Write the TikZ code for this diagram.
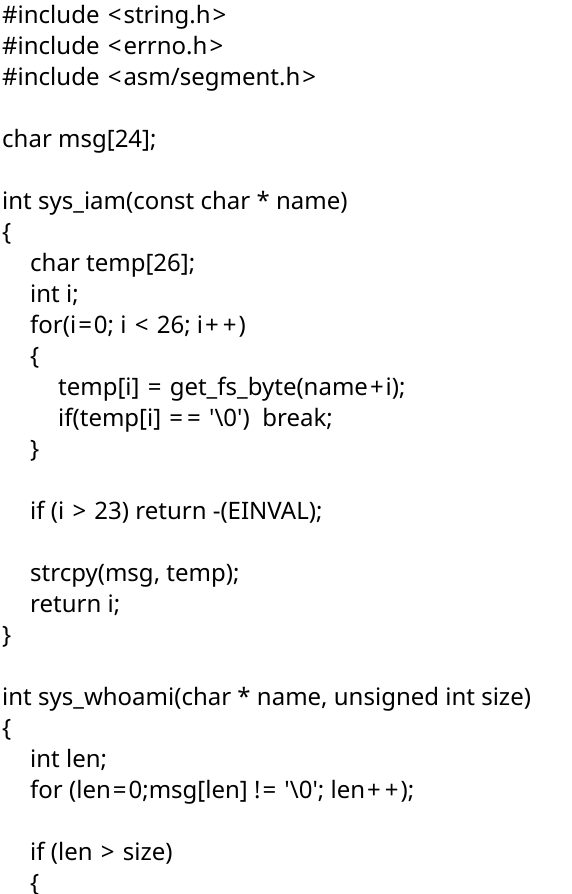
\documentclass[tikz,border=0pt]{standalone}
\usepackage{fontspec}
\setmainfont{Noto Sans}
\usetikzlibrary{positioning}
\tikzset{codeline/.style={anchor=base west, inner sep=0pt, font=\fontsize{24}{29}\selectfont}}
\newcommand{\bsl}{\textbackslash}
\newcommand{\sqt}{\textquotesingle}
\newcommand{\opx}[1]{\kern2pt\relax#1\kern2pt\relax}

\begin{document}
\begin{tikzpicture}[x=1pt,y=1pt]
    \useasboundingbox (0,0) rectangle (572,-894);
    \clip (0,0) rectangle (572,-894);
    % line number / indent level / text
    \foreach \n/\ind/\txt in {
        1/0/{\#include \opx{<}string.h\opx{>}},
        2/0/{\#include \opx{<}errno.h\opx{>}},
        3/0/{\#include \opx{<}asm/segment.h\opx{>}},
        5/0/{char msg[24];},
        7/0/{int sys\_iam(const char * name)},
        8/0/{\{},
        9/1/{char temp[26];},
        10/1/{int i;},
        11/1/{for(i\opx{=}0; i \opx{<} 26; i\opx{+}\opx{+})},
        12/1/{\{},
        13/2/{temp[i] \opx{=} get\_fs\_byte(name\opx{+}i);},
        14/2/{if(temp[i] \opx{=}\opx{=} \sqt\bsl 0\sqt)\ \ break;},
        15/1/{\}},
        17/1/{if (i \opx{>} 23) return -(EINVAL);},
        19/1/{strcpy(msg, temp);},
        20/1/{return i;},
        21/0/{\}},
        23/0/{int sys\_whoami(char * name, unsigned int size)},
        24/0/{\{},
        25/1/{int len;},
        26/1/{for (len\opx{=}0;msg[len] !\opx{=} \sqt\bsl 0\sqt; len\opx{+}\opx{+});},
        28/1/{if (len \opx{>} size)},
        29/1/{\{}} {
        \node[codeline] (l\n) at (2+28*\ind, {-23.5-31*(\n-1)}) {\txt};
    }
\end{tikzpicture}
\end{document}
